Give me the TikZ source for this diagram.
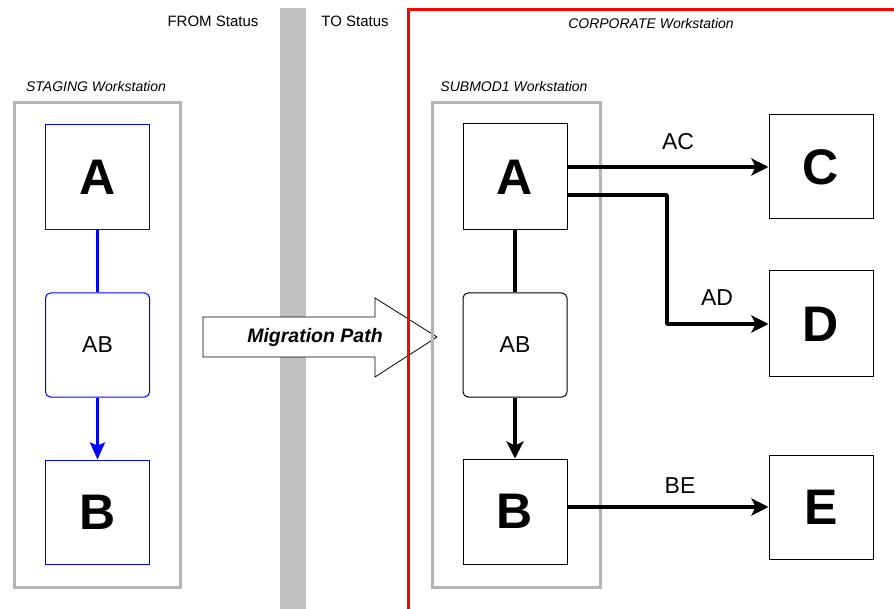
\documentclass[tikz,border=0pt]{standalone}
\usepackage{fontspec}
\setmainfont{Liberation Sans}
\usetikzlibrary{arrows.meta}
\definecolor{framegray}{HTML}{B4B4B4}
\definecolor{bargray}{HTML}{C0C0C0}
\tikzset{
  x=1pt, y=-1pt,
  wsframe/.style={draw=framegray, line width=3pt},
  bigbox/.style={draw, line width=1pt, minimum width=104pt, minimum height=105pt,
    inner sep=0pt, font=\fontsize{50}{50}\selectfont\bfseries},
  blueb/.style={bigbox, draw=blue},
  midbox/.style={bigbox, rounded corners=5pt, font=\fontsize{23}{23}\selectfont},
  conn/.style={line width=3.8pt},
  tipd/.style={-{Stealth[length=17pt,width=17pt,inset=4pt]}},
  edgelbl/.style={font=\fontsize{23}{23}\selectfont, inner sep=0pt},
  hdr/.style={font=\fontsize{15}{15}\selectfont, inner sep=0pt},
  wslbl/.style={font=\fontsize{14}{14}\selectfont\itshape, inner sep=0pt}
}
\begin{document}
\begin{tikzpicture}
\useasboundingbox (0,0) rectangle (894,609);
\fill[white] (0,0) rectangle (894,609);

% status divider
\fill[bargray] (280,8) rectangle (306,609);
\node[hdr] (fromlbl) at (213,21) {FROM Status};
\node[hdr] (tolbl) at (355,21) {TO Status};

% STAGING workstation
\draw[wsframe] (14,103) rectangle (180,587);
\node[wslbl] (stglbl) at (96,87) {STAGING Workstation};
\node[blueb] (sA) at (97.5,177.5) {A};
\node[blueb, midbox, minimum height=104pt] (sAB) at (97.5,345) {AB};
\node[blueb, minimum height=104pt] (sB) at (97.5,512) {B};
\draw[conn, draw=blue, line width=3pt] (sA) -- (sAB);
\draw[conn, draw=blue, line width=3pt, -{Stealth[length=17pt,width=15pt,inset=3pt]}] (sAB) -- (sB);

% migration arrow
\draw[fill=white, line width=0.8pt] (203,317) -- (375,317) -- (375,298) -- (437,337)
  -- (375,377) -- (375,357) -- (203,357) -- cycle;
\node[font=\fontsize{19.5}{19.5}\selectfont\bfseries\itshape] (migr) at (315,337) {Migration Path};

% CORPORATE workstation
\draw[red, line width=3pt] (408,609) -- (408,10) -- (894,10);
\node[wslbl] (corplbl) at (651,24) {CORPORATE Workstation};

% SUBMOD1 workstation
\draw[wsframe] (432,103) rectangle (600,587);
\node[wslbl] (sublbl) at (514,87) {SUBMOD1 Workstation};
\node[bigbox, minimum height=106pt] (rA) at (515,177) {A};
\node[midbox, minimum height=104pt] (rAB) at (515,345) {AB};
\node[bigbox] (rB) at (515,511.5) {B};

\node[bigbox, minimum height=104pt] (rC) at (821,167) {C};
\node[bigbox, minimum height=106pt] (rD) at (821,324) {D};
\node[bigbox, minimum height=104pt] (rE) at (821,507) {E};

\draw[conn] (rA) -- (rAB);
\draw[conn, tipd] (rAB) -- (rB);
\draw[conn, tipd] (rA.east |- rC.west) -- (rC.west);
\coordinate (adbend) at (667,195);
\draw[conn, tipd, line join=round] ([yshift=-18pt]rA.east) -- (adbend) |- (rD.west);
\draw[conn, tipd] (rB.east |- rE.west) -- (rE.west);

\node[edgelbl] (aclbl) at (678,142) {AC};
\node[edgelbl] (adlbl) at (717,298) {AD};
\node[edgelbl] (belbl) at (680,486) {BE};
\end{tikzpicture}
\end{document}
